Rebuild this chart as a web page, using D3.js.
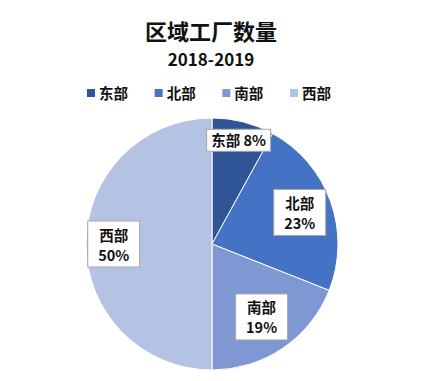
<!DOCTYPE html>
<html><head>
<meta charset="utf-8">
<script src="https://d3js.org/d3.v7.min.js"></script>
<style>
  body { margin: 0; background: #fff; }
  text { font-family: "Noto Sans CJK SC", "Noto Sans", sans-serif; font-weight: bold; fill: #111; }
</style>
</head>
<body>
<svg id="chart" width="422" height="381"></svg>
<script>

  // Data
  const regions = ["东部", "北部", "南部", "西部"];
  const shares = [8, 23, 19, 50];
  const colors = ["#2f5597", "#4472c4", "#7f98d4", "#b4c2e4"];
  const title = "区域工厂数量";
  const subtitle = "2018-2019";

  // Layout
  const svg = d3.select("#chart");
  const width = +svg.attr("width");
  const cx = 212, cy = 244, radius = 126;
  const labelFactor = [0.85, 0.74, 0.70, 0.78];   // where each data label sits along its slice
  const singleLine = [true, false, false, false];

  const rows = regions.map((r, i) => ({ region: r, value: shares[i], color: colors[i], i: i }));

  // Titles
  svg.append("text").attr("x", width / 2).attr("y", 40)
     .attr("text-anchor", "middle").style("font-size", "22px").text(title);
  svg.append("text").attr("x", width / 2).attr("y", 66)
     .attr("text-anchor", "middle").style("font-size", "17px").text(subtitle);

  // Legend
  const legendX = d3.scalePoint().domain(regions).range([87, 290]);
  const legend = svg.append("g").selectAll("g").data(rows).join("g")
      .attr("transform", d => "translate(" + legendX(d.region) + ",89)");
  legend.append("rect").attr("width", 8).attr("height", 8).attr("fill", d => d.color);
  legend.append("text").attr("x", 12).attr("y", 9.5).style("font-size", "14.5px").text(d => d.region);

  // Pie
  const pie = d3.pie().value(d => d.value).sort(null);
  const arc = d3.arc().innerRadius(0).outerRadius(radius);
  const arcs = pie(rows);

  const chartLayer = svg.append("g").attr("transform", "translate(" + cx + "," + cy + ")");
  chartLayer.selectAll("path").data(arcs).join("path")
      .attr("d", arc)
      .attr("fill", d => d.data.color)
      .attr("stroke", "#fff")
      .attr("stroke-width", 1);

  // Data labels in white boxes
  const labels = chartLayer.selectAll("g.label").data(arcs).join("g").attr("class", "label")
      .attr("transform", d => {
        const r = radius * labelFactor[d.data.i];
        const c = d3.arc().innerRadius(r).outerRadius(r).centroid(d);
        return "translate(" + c[0] + "," + c[1] + ")";
      });

  labels.each(function(d) {
    const g = d3.select(this);
    if (singleLine[d.data.i]) {
      g.append("rect").attr("x", -32).attr("y", -11).attr("width", 64).attr("height", 22)
       .attr("fill", "#fff").attr("stroke", "#a6a6a6");
      g.append("text").attr("text-anchor", "middle").attr("y", 5.5)
       .style("font-size", "14.5px").text(d.data.region + " " + d.data.value + "%");
    } else {
      g.append("rect").attr("x", -26).attr("y", -23).attr("width", 52).attr("height", 46)
       .attr("fill", "#fff").attr("stroke", "#a6a6a6");
      g.append("text").attr("text-anchor", "middle").attr("y", -3.5)
       .style("font-size", "14.5px").text(d.data.region);
      g.append("text").attr("text-anchor", "middle").attr("y", 16.5)
       .style("font-size", "14.5px").text(d.data.value + "%");
    }
  });

</script>
</body>
</html>
